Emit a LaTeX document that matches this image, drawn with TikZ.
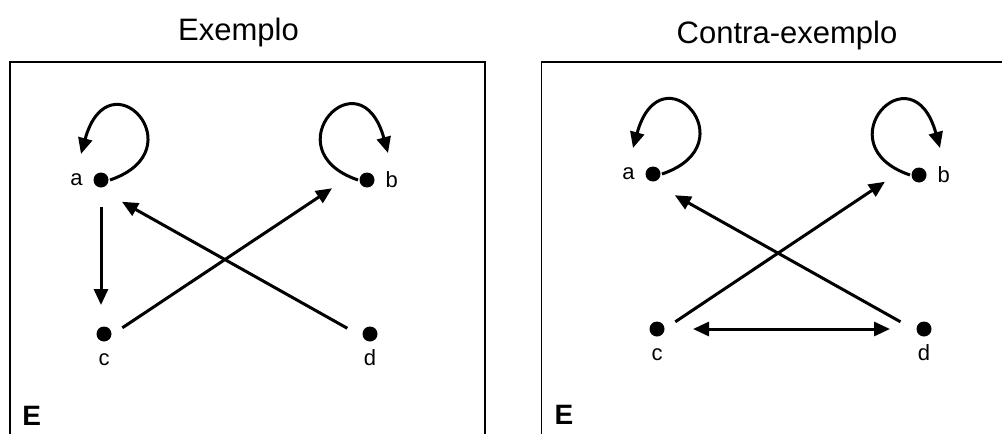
\documentclass[tikz,border=0pt]{standalone}
\usepackage{fontspec}
\setmainfont{Liberation Sans}
\usetikzlibrary{positioning}
\usetikzlibrary{arrows.meta}

\begin{document}
\begin{tikzpicture}[
    x=1pt, y=1pt,
    dot/.style={circle, fill, inner sep=0pt, minimum size=15pt},
    lbl/.style={inner sep=0pt, font=\fontsize{22}{26}\selectfont},
    ttl/.style={anchor=base, inner sep=0pt, font=\fontsize{31}{37}\selectfont},
    tag/.style={anchor=base west, inner sep=0pt, font=\fontsize{28}{34}\selectfont\bfseries},
    frame/.style={line width=1.5pt},
    >={Triangle[length=16pt, width=14pt]},
    line width=3pt,
]
\useasboundingbox (0,0) rectangle (1002,-434);

\draw[frame] (10,-450) |- (485,-62) -- (485,-450);
\draw[frame] (541.5,-450) |- (1010,-62);

\node[ttl] (t-L) at (238.5,-40) {Exemplo};
\node[ttl] (t-R) at (787,-43) {Contra-exemplo};
\node[tag] (e-L) at (21,-425) {E};
\node[tag] (e-R) at (553,-424) {E};

\foreach \p/\n/\x/\y in {L/a/101/180, L/b/367/180, L/c/104/334, L/d/370/334,
                          R/a/653/174, R/b/919/175, R/c/657/329, R/d/924/329} {
    \node[dot] (\n-\p) at (\x,-\y) {};
}

\foreach \p in {L,R} {
    \node[lbl, left=8pt of a-\p] (la-\p) {a};
    \node[lbl, right=8pt of b-\p] (lb-\p) {b};
    \node[lbl, below=22pt of c-\p, anchor=base] (lc-\p) {c};
    \node[lbl, below=22pt of d-\p, anchor=base] (ld-\p) {d};
    \coordinate (ta-\p) at ([shift={(-20,26)}]a-\p.center);
    \coordinate (tb-\p) at ([shift={(21,27)}]b-\p.center);
    \draw[->] (a-\p.east) .. controls +(88,30) and +(28,101) .. (ta-\p);
    \draw[->] (b-\p.west) .. controls +(-88,30) and +(-28,101) .. (tb-\p);
}

\draw[->, shorten <=27pt, shorten >=29pt] (a-L.center) -- ([xshift=-3pt]c-L.center);
\draw[->, shorten <=22pt, shorten >=42pt] ([yshift=-6pt]c-L.center) -- ([yshift=15pt]b-L.center);
\draw[->, shorten <=26pt, shorten >=24pt] ([yshift=-7pt]d-L.center) -- ([yshift=-10pt]a-L.center);

\draw[->, shorten <=22pt, shorten >=41pt] ([yshift=-5pt]c-R.center) -- ([yshift=16pt]b-R.center);
\draw[->, shorten <=27pt, shorten >=25pt] ([yshift=-6pt]d-R.center) -- ([yshift=-9pt]a-R.center);
\draw[<->, shorten <=36pt, shorten >=34pt] (c-R.center) -- (d-R.center);
\end{tikzpicture}
\end{document}
